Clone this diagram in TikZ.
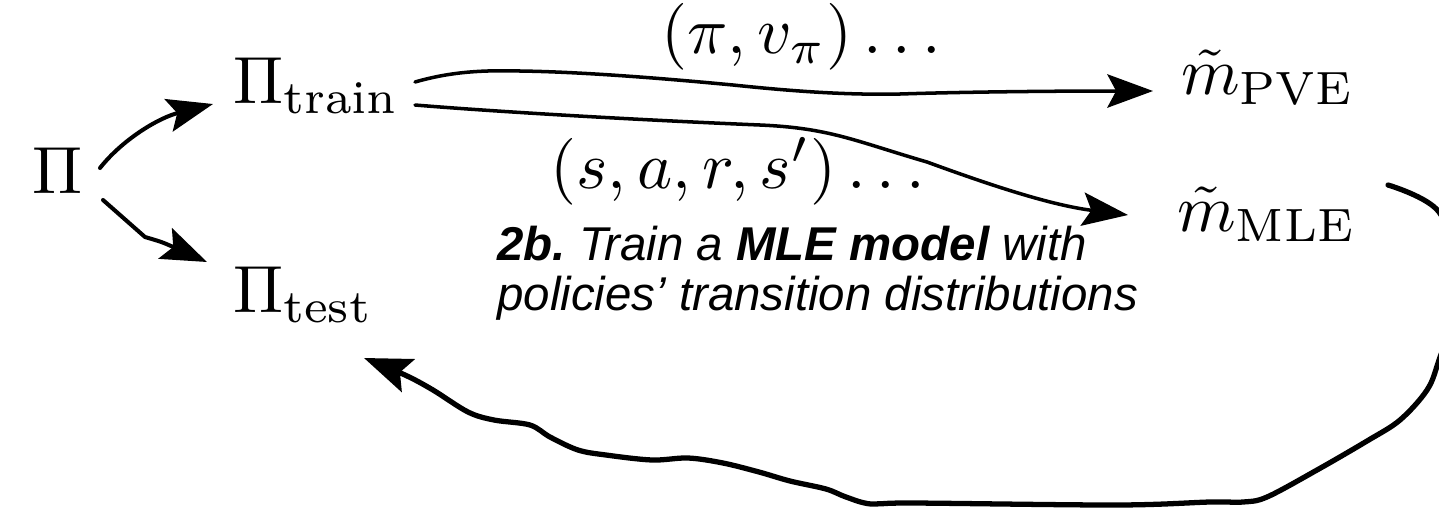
\documentclass[tikz,border=0pt]{standalone}
\usepackage{fontspec}
\newfontfamily\lsans{Liberation Sans}
\usetikzlibrary{arrows.meta}
\begin{document}
\begin{tikzpicture}[x=0.02cm,y=-0.02cm,
  mathlbl/.style={inner sep=0pt, anchor=base west, scale=3.8},
  desc/.style={inner sep=0pt, anchor=base west, font=\lsans\itshape\fontsize{27}{32}\selectfont},
  bigtip/.style={-{Stealth[length=26pt,width=19pt,inset=5pt]}},
  conn/.style={bigtip, line width=2pt, line join=round, line cap=round},
  thick conn/.style={-{Stealth[length=27pt,width=20pt,inset=5pt]}, line width=3pt, line join=round, line cap=round}]
\useasboundingbox (0,0) rectangle (1439,508);
\fill[white] (0,0) rectangle (1439,508);
\clip (0,0) rectangle (1439,508);

% nodes
\node[mathlbl] (pi)    at (31,193)  {$\Pi$};
\node[mathlbl] (train) at (232,103) {$\Pi_{\mathrm{train}}$};
\node[mathlbl] (test)  at (232,312) {$\Pi_{\mathrm{test}}$};
\node[mathlbl] (pve)   at (1180,94) {$\tilde{m}_{\mathrm{PVE}}$};
\node[mathlbl] (mle)   at (1176,231) {$\tilde{m}_{\mathrm{MLE}}$};
\node[mathlbl] (lblpv) at (660,53)  {$(\pi, v_\pi)\dots$};
\node[mathlbl] (lblsa) at (549,188) {$(s, a, r, s')\dots$};
\node[desc] (d1) at (497,260) {\bfseries\itshape 2b.\ \mdseries Train a \bfseries MLE model \mdseries with};
\node[desc] (d2) at (497,310) {policies’ transition distributions};

% connector end points
\coordinate (pi1)   at (100,168);
\coordinate (pi2)   at (103,200);
\coordinate (traina) at (415,82);
\coordinate (trainb) at (415,105);
\coordinate (pvein) at (1153,91);
\coordinate (mlein) at (1128,215);
\coordinate (trainin) at (213,104);
\coordinate (testin) at (207,262);
\coordinate (mleout) at (1388,185);
\coordinate (testback) at (364,358);

% Pi -> Pi_train, Pi -> Pi_test
\draw[conn, line width=2.3pt] (pi1) .. controls (122,140) and (158,118) .. (trainin);
\draw[conn, line width=2.3pt] (pi2) -- (145,237) .. controls (162,242) .. (testin);

% Pi_train -> m_PVE
\draw[conn] (traina) .. controls (450,72) and (480,70) .. (520,71)
  .. controls (590,72) and (680,80) .. (733,85)
  .. controls (800,92) and (850,95) .. (900,94)
  .. controls (960,92) and (1050,91) .. (pvein);
% Pi_train -> m_MLE
\draw[conn] (trainb) .. controls (500,112) and (640,120) .. (760,125)
  .. controls (830,128) and (855,141) .. (927,162)
  .. controls (990,185) and (1050,205) .. (mlein);

% m_MLE -> Pi_test (loop)
\draw[thick conn] plot[smooth, tension=0.55] coordinates {
  (mleout) (1439,212) (1462,285) (1439,360) (1427,390) (1400,420) (1367,441)
  (1317,470) (1267,497) (1243,502) (1210,502) (1117,505) (912,503)
  (871,504) (846,497) (826,489) (790,481) (759,472) (723,463) (688,458)
  (652,460) (606,455) (578,450) (550,437) (530,425) (494,420) (468,412)
  (433,390) (405,375) (testback)};
\end{tikzpicture}
\end{document}
